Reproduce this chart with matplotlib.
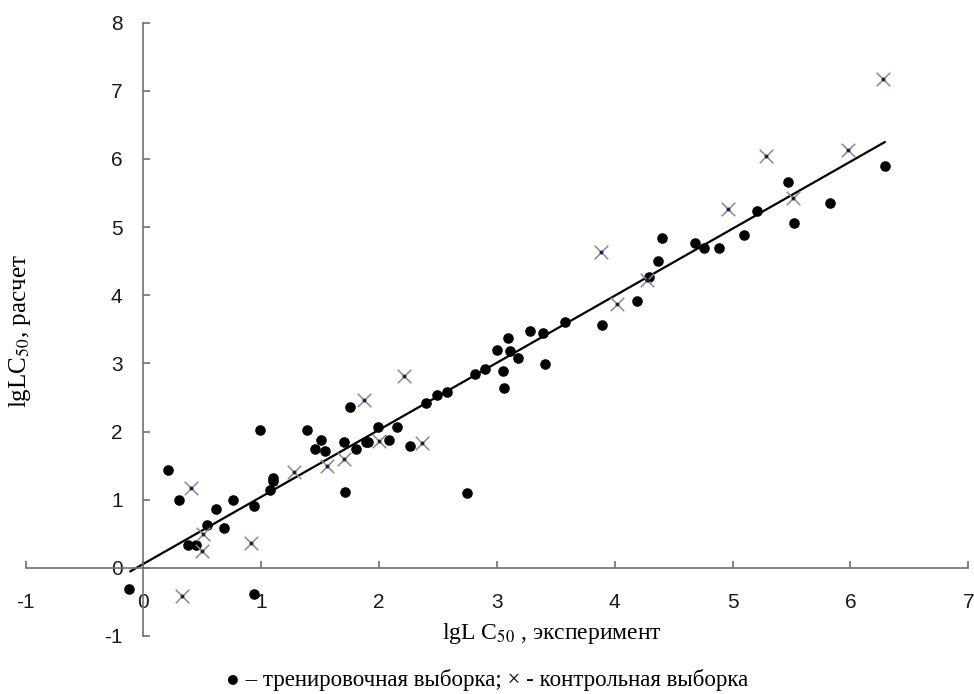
import matplotlib
matplotlib.use('Agg')
import matplotlib.pyplot as plt
import numpy as np

# training set (dots)
train_x = [-0.12, 0.21, 0.30, 0.38, 0.45, 0.54, 0.62, 0.685, 0.76, 0.94, 0.94, 0.99,
           1.075, 1.10, 1.10, 1.39, 1.46, 1.51, 1.54, 1.70, 1.71, 1.755, 1.80, 1.89,
           1.91, 1.99, 2.08, 2.15, 2.26, 2.40, 2.49, 2.58, 2.75, 2.81, 2.90, 3.00,
           3.05, 3.06, 3.09, 3.11, 3.18, 3.28, 3.39, 3.41, 3.58, 3.89, 4.19, 4.29,
           4.37, 4.40, 4.68, 4.76, 4.88, 5.10, 5.21, 5.47, 5.52, 5.83, 6.29]
train_y = [-0.31, 1.43, 1.00, 0.33, 0.33, 0.63, 0.86, 0.59, 0.99, 0.91, -0.39, 2.03,
           1.14, 1.32, 1.27, 2.03, 1.74, 1.88, 1.72, 1.84, 1.12, 2.36, 1.74, 1.84,
           1.84, 2.06, 1.88, 2.06, 1.79, 2.42, 2.54, 2.58, 1.10, 2.84, 2.92, 3.20,
           2.89, 2.64, 3.38, 3.18, 3.08, 3.47, 3.45, 2.99, 3.61, 3.57, 3.91, 4.27,
           4.50, 4.84, 4.77, 4.70, 4.70, 4.88, 5.24, 5.66, 5.06, 5.35, 5.90]

# control set (crosses)
test_x = [0.33, 0.40, 0.50, 0.51, 0.91, 1.28, 1.56, 1.70, 1.87, 2.00, 2.21, 2.36,
          3.88, 4.02, 4.27, 4.96, 5.28, 5.51, 5.98, 6.28]
test_y = [-0.41, 1.17, 0.24, 0.50, 0.36, 1.40, 1.50, 1.60, 2.47, 1.86, 2.82, 1.83,
          4.63, 3.87, 4.23, 5.26, 6.04, 5.43, 6.13, 7.17]

# regression line
fit_x = np.array([-0.11, 6.29])
slope = 0.984
intercept = 0.058

xticks = [-1, 0, 1, 2, 3, 4, 5, 6, 7]
yticks = [-1, 0, 1, 2, 3, 4, 5, 6, 7, 8]

plt.rcParams['mathtext.fontset'] = 'stix'
plt.rcParams['axes.unicode_minus'] = False

fig = plt.figure(figsize=(9.74, 6.94), dpi=100)
ax = fig.add_axes([0.0262, 0.0836, 0.968, 0.8837])

ax.plot(fit_x, slope * fit_x + intercept, color='black', lw=1.6, zorder=2)
ax.scatter(train_x, train_y, s=58, color='black', zorder=3, linewidths=0)
ax.scatter(test_x, test_y, s=95, marker='x', color='#8a8a8a', linewidths=1.1, zorder=3)
ax.scatter(test_x, test_y, s=8, color='#1a1a60', zorder=4, linewidths=0)

ax.set_xlim(-1, 7)
ax.set_ylim(-1, 8)

for side in ['top', 'right']:
    ax.spines[side].set_visible(False)
ax.spines['left'].set_position(('data', 0))
ax.spines['bottom'].set_position(('data', 0))
for side in ['left', 'bottom']:
    ax.spines[side].set_color('#707070')
    ax.spines[side].set_linewidth(1.2)

ax.set_xticks(xticks)
ax.set_yticks(yticks)
ax.tick_params(axis='both', direction='in', length=5, width=1.2, colors='#707070',
               labelcolor='#1a1a1a', labelsize=15)
ax.tick_params(axis='x', pad=18)
ax.tick_params(axis='y', pad=15)
for lab in ax.get_xticklabels() + ax.get_yticklabels():
    lab.set_fontfamily('Liberation Sans')

fig.text(0.567, 1 - 633 / 694, 'lgL C$_{50}$ , эксперимент', ha='center', va='center',
         fontsize=17, family='Liberation Serif')
fig.text(0.021, 1 - 331 / 694, 'lgLC$_{50}$, расчет', ha='center', va='center',
         rotation=90, fontsize=18, family='Liberation Serif')
fig.text(0.5, 1 - 680 / 694, '● – тренировочная выборка; × - контрольная выборка',
         ha='center', va='center', fontsize=16.5,
         family=['Liberation Serif', 'DejaVu Sans'])

fig.savefig('out.png', dpi=100)
